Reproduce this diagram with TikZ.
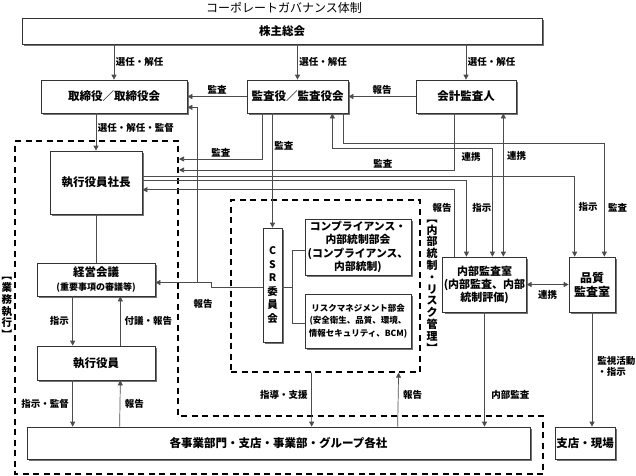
\documentclass[tikz,border=0pt]{standalone}
\usepackage{fontspec}
\setmainfont{Noto Sans CJK JP}
\usetikzlibrary{arrows.meta,positioning,shadows}

\begin{document}
\begin{tikzpicture}[
    x=1pt, y=-1pt,
    box/.style={rectangle, draw=black!80, line width=0.7pt, fill=white, align=center, inner sep=1pt,
        drop shadow={shadow xshift=1.8pt, shadow yshift=-1.8pt, fill=black!55, opacity=1},
        font=\bfseries\fontsize{11.5}{13.5}\selectfont},
    area/.style={draw=black, line width=1.2pt, dash pattern=on 6pt off 4.5pt},
    conn/.style={draw=black!70, line width=0.7pt},
    arrow/.style={conn, -{Triangle[length=5pt, width=5pt]}},
    twoway/.style={conn, {Triangle[length=5pt, width=5pt]}-{Triangle[length=5pt, width=5pt]}},
    lbl/.style={font=\bfseries\fontsize{9.5}{11}\selectfont, inner sep=1.5pt},
    vlbl/.style={align=center, inner sep=0pt, font=\bfseries\fontsize{10.5}{11.8}\selectfont}
]
\useasboundingbox (0,0) rectangle (636,475);

% Title
\node[font=\fontsize{12}{14}\selectfont] (title) at (284,8) {コーポレートガバナンス体制};

% Dashed areas
\draw[area] (15,141) -- (178,141) -- (178,416) -- (543,416) -- (543,474) -- (15,474) -- cycle;
\node[area, rectangle, minimum width=189pt, minimum height=172pt, inner sep=0pt] (risk_area) at (325.5,286) {};
\node[vlbl] (exec_tag) at (7,308) {︻\\業\\務\\執\\行\\︼};
\node[vlbl, font=\bfseries\fontsize{11}{11.8}\selectfont] (control_tag) at (432,286) {︻\\内\\部\\統\\制\\・\\リ\\ス\\ク\\管\\理\\︼};

% Shareholders and boards
\node[box, minimum width=520pt, minimum height=26pt] (shareholders) at (282,31) {株主総会};
\node[box, minimum width=146pt, minimum height=33pt] (board) at (114,96.5) {取締役／取締役会};
\node[box, minimum width=101pt, minimum height=33pt] (auditors) at (297.5,96.5) {監査役／監査役会};
\node[box, minimum width=100pt, minimum height=33pt] (acct_auditor) at (466,96.5) {会計監査人};

% Business execution
\node[box, minimum width=92pt, minimum height=63pt] (president) at (96,182.5) {執行役員社長};
\node[box, minimum width=118pt, minimum height=33pt] (mgmt_meeting) at (96,279.5) {経営会議\\{\fontsize{9}{10}\selectfont (重要事項の審議等)}};
\node[box, minimum width=118pt, minimum height=34pt] (officers) at (96,363) {執行役員};
\node[box, minimum width=503pt, minimum height=32pt] (business_units) at (278.5,443) {各事業部門・支店・事業部・グループ各社};
\node[box, minimum width=60pt, minimum height=32pt] (branch_sites) at (585,443) {支店・現場};

% Internal control and risk management
\node[box, minimum width=19pt, minimum height=114pt, font=\bfseries\fontsize{10.5}{13.6}\selectfont] (csr_committee) at (272.5,285) {C\\S\\R\\委\\員\\会};
\node[box, minimum width=106pt, minimum height=56pt, font=\bfseries\fontsize{10.8}{13.6}\selectfont] (compliance) at (358,247) {コンプライアンス・\\内部統制部会\\(コンプライアンス、\\内部統制)};
\node[box, minimum width=106pt, minimum height=54pt, font=\bfseries\fontsize{8.5}{12.5}\selectfont] (risk_mgmt) at (358,321) {リスクマネジメント部会\\(安全衛生、品質、環境、\\情報セキュリティ、BCM)};

% Audit offices
\node[box, minimum width=83pt, minimum height=55pt, font=\bfseries\fontsize{11}{13}\selectfont] (internal_audit) at (484.5,284.5) {内部監査室\\(内部監査、内部\\統制評価)};
\node[box, minimum width=46pt, minimum height=55pt, font=\bfseries\fontsize{12}{14}\selectfont] (quality_audit) at (592,284.5) {品質\\監査室};

% Ports
\coordinate (exec_edge1) at (179,159);
\coordinate (exec_edge2) at (179,170);
\coordinate (auditors_p1) at ([xshift=16pt]auditors.south west);
\coordinate (auditors_p2) at ([xshift=-16pt]auditors.south east);
\coordinate (auditors_p3) at ([xshift=-5pt]auditors.south east);
\coordinate (acct_p1) at ([xshift=39pt]acct_auditor.south west);
\coordinate (acct_p2) at ([xshift=-13pt]acct_auditor.south east);
\coordinate (csr_join) at ([xshift=42pt, yshift=-3pt]mgmt_meeting.east);

% Election
\draw[arrow] (shareholders.south -| board) -- node[lbl, right] {選任・解任} (board.north);
\draw[arrow] (shareholders.south -| auditors) -- node[lbl, right] {選任・解任} (auditors.north);
\draw[arrow] (shareholders.south -| acct_auditor) -- node[lbl, right] {選任・解任} (acct_auditor.north);
\draw[arrow] (auditors.west) -- node[lbl, above] {監査} (board.east);
\draw[arrow] (acct_auditor.west) -- node[lbl, above] {報告} (auditors.east);
\draw[arrow] (board.south -| president) -- node[lbl, right, pos=0.4] {選任・解任・監督} (president.north);

% Audit paths
\draw[arrow] (auditors_p1) |- node[lbl, above, pos=0.75] {監査} (exec_edge1);
\draw[arrow] (auditors.south -| csr_committee) -- node[lbl, right, pos=0.28] {監査} (csr_committee.north);
\draw[twoway] (auditors_p2) -- ++(0,35) -| node[lbl, left=10pt, pos=0.54] {連携} ([xshift=50pt]internal_audit.north west);
\draw[arrow] (acct_p1) |- node[lbl, above, pos=0.63] {監査} (exec_edge2);
\draw[twoway] (acct_p2) -- node[lbl, right=2pt, pos=0.3] {連携} (acct_p2 |- internal_audit.north);
\draw[arrow] (auditors_p3) -- ++(0,30) -| node[lbl, right=2pt, pos=0.785] {監査} ([xshift=-11pt]quality_audit.north east);

% President
\draw[arrow] ([yshift=-26pt]president.north east) -| node[lbl, right=2pt, pos=0.69] {指示} ([xshift=6pt]quality_audit.north west);
\draw[arrow] ([yshift=-30pt]president.north east) -| node[lbl, right=4pt, pos=0.68] {指示} ([xshift=24pt]internal_audit.north west);
\draw[arrow] ([xshift=12pt]internal_audit.north west) |- node[lbl, left=1pt, pos=0.365] {報告} ([yshift=-39pt]president.north east);

% CSR reports
\draw[arrow] ([yshift=-2pt]csr_committee.west) -- ++(-51,0) |- ([yshift=-3pt]mgmt_meeting.east);
\draw[arrow] (csr_join) |- ([yshift=6pt]board.south east);
\node[lbl] (csr_report) at (203,304) {報告};
\draw[conn] ([yshift=-2pt]csr_committee.east) -- ++(11,0);
\draw[conn] ([yshift=-3pt]compliance.west) -- ++(-12,0) |- ([yshift=-2pt]risk_mgmt.west);

% Execution chain
\draw[conn] (president.south) -- (mgmt_meeting.north);
\draw[arrow] ([xshift=36pt]mgmt_meeting.south west) -- node[lbl, left=2pt] {指示} ([xshift=36pt]officers.north west);
\draw[arrow] ([xshift=-35pt]officers.north east) -- node[lbl, right=2.5pt] {付議・報告} ([xshift=-35pt]mgmt_meeting.south east);
\draw[arrow] ([xshift=36pt]officers.south west) -- node[lbl, left=2pt] {指示・監督} ([xshift=46pt]business_units.north west);
\draw[arrow] ([xshift=93pt]business_units.north west) -- node[lbl, right=3pt] {報告} ([xshift=-35pt]officers.south east);

% Down to business units
\draw[arrow] ([xshift=81pt]risk_area.south west) -- node[lbl, left=2pt, pos=0.42] {指導・支援} ([xshift=285pt]business_units.north west);
\draw[arrow] ([xshift=371pt]business_units.north west) -- node[lbl, right=3pt, pos=0.58] {報告} ([xshift=-22pt]risk_area.south east);
\draw[arrow] (internal_audit.south) -- node[lbl, right=5pt, pos=0.72] {内部監査} (internal_audit.south |- business_units.north);
\draw[arrow] (quality_audit.south) -- node[lbl, right=3.5pt, pos=0.47, align=left] {監視活動\\・指示} (quality_audit.south |- branch_sites.north);
\draw[twoway] (internal_audit.east) -- node[lbl, below=3.5pt] {連携} (quality_audit.west);

\end{tikzpicture}
\end{document}
